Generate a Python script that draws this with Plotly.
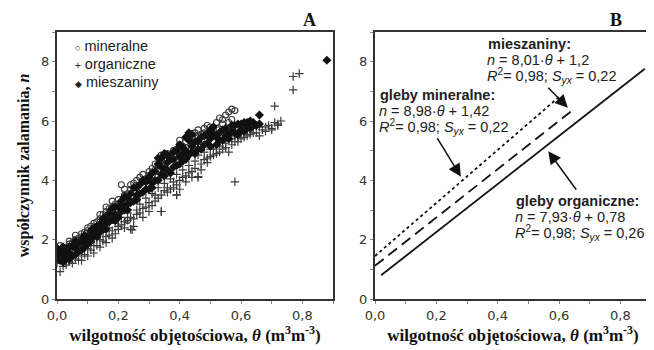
import plotly.graph_objects as go

# ---------------- Panel A data ----------------
min_x = [0.00,0.01,0.02,0.03,0.04,0.05,0.06,0.07,0.08,0.09,0.10,0.11,0.12,0.13,0.14,0.15,0.16,0.17,0.18,0.19,
         0.20,0.21,0.23,0.22,0.23,0.24,0.25,0.26,0.27,0.28,0.29,0.30,0.31,0.32,0.33,0.34,0.35,0.36,0.37,0.38,
         0.39,0.40,0.41,0.42,0.43,0.44,0.45,0.46,0.47,0.48,0.49,0.50,0.51,0.52,0.53,0.54,0.55,0.56,0.57,0.57,0.58,
         0.00,0.01,0.02,0.04,0.05,0.06,0.08,0.10,0.12,0.14,0.16,0.18,0.20,0.22,0.24,0.26,0.28,0.30,0.32,0.34,
         0.36,0.38,0.40,0.42,0.44,0.46,0.48,0.50,0.52,0.54,0.56]
min_y = [1.55,1.60,1.75,1.70,1.85,1.90,2.00,2.05,2.10,2.25,2.30,2.45,2.55,2.60,2.70,2.85,2.95,3.05,3.10,3.20,
         3.35,3.85,2.65,3.50,3.55,3.70,3.90,3.80,4.10,4.20,4.05,4.30,4.40,4.55,4.50,4.70,4.65,4.90,4.75,5.00,
         5.05,5.20,5.15,5.30,5.40,5.45,5.60,5.70,5.55,5.75,5.85,5.80,5.70,5.95,6.10,5.90,6.20,6.30,6.40,6.05,6.35,
         1.70,1.80,1.60,1.95,1.75,2.15,2.20,2.40,2.35,2.85,3.10,3.30,3.15,3.70,3.85,4.00,3.95,4.15,4.35,4.85,
         4.70,4.85,5.35,5.10,5.30,5.50,5.60,5.65,5.75,6.05,5.95]

org_x = [0.00,0.00,0.01,0.02,0.02,0.03,0.04,0.05,0.06,0.07,0.07,0.08,0.09,0.10,0.11,0.12,0.13,0.14,0.15,0.16,
         0.17,0.18,0.19,0.20,0.21,0.22,0.23,0.24,0.25,0.26,0.26,0.27,0.28,0.29,0.30,0.31,0.32,0.33,0.34,0.35,
         0.36,0.37,0.38,0.39,0.39,0.40,0.41,0.42,0.43,0.44,0.45,0.46,0.46,0.47,0.48,0.49,0.50,0.51,0.52,0.53,
         0.54,0.55,0.56,0.57,0.58,0.58,0.59,0.60,0.61,0.62,0.63,0.64,0.65,0.66,0.67,0.68,0.69,0.70,0.71,0.72,
         0.73,0.71,0.77,0.77,0.79,
         0.01,0.03,0.04,0.05,0.06,0.08,0.09,0.10,0.11,0.12,0.13,0.14,0.15,0.16,0.17,0.18,0.19,0.20,0.21,0.22,
         0.23,0.24,0.25,0.27,0.28,0.29,0.30,0.31,0.32,0.33,0.34,0.35,0.36,0.37,0.38,0.39,0.40,0.41,0.42,0.43,
         0.44,0.45,0.47,0.48,0.49,0.50,0.51,0.52,0.53,0.54,0.55,0.56,0.57,0.58,0.59,0.60,0.62,0.64,0.66,0.68,
         0.70,0.72,0.245,0.34,0.39,0.46]
org_y = [1.20,1.55,0.92,1.10,1.40,1.30,1.25,1.50,1.35,1.60,1.30,1.45,1.75,1.70,1.90,1.80,2.05,2.00,2.25,2.10,
         2.40,2.30,2.55,2.45,2.75,2.60,2.90,2.35,2.45,3.00,2.85,3.20,3.05,3.40,2.95,3.55,3.30,3.75,3.50,3.90,
         3.60,4.05,3.75,3.50,4.20,4.00,4.35,4.15,4.50,4.30,4.65,4.10,4.85,4.55,4.95,4.75,5.05,4.85,5.20,4.95,
         5.30,5.10,5.40,5.20,3.95,5.50,5.30,5.60,5.45,5.70,5.55,5.75,5.60,5.80,5.70,5.65,5.85,5.75,5.95,5.85,
         6.00,6.50,7.05,7.50,7.60,
         1.35,1.15,1.45,1.20,1.55,1.30,1.50,1.45,1.65,1.55,1.80,1.75,1.95,1.90,2.15,2.05,2.20,2.35,2.50,2.40,
         2.65,2.75,2.70,2.90,2.75,3.10,3.25,3.15,3.50,3.40,2.95,3.65,3.75,3.70,3.95,3.85,3.70,4.10,3.95,4.25,
         4.10,4.40,4.35,4.70,4.60,4.80,5.05,4.90,5.15,5.05,5.25,4.95,5.40,5.30,5.45,5.40,5.50,5.60,5.50,5.80,
         5.70,5.90,2.33,2.95,3.51,4.13]

mix_x = [0.00,0.00,0.01,0.01,0.02,0.02,0.03,0.03,0.04,0.05,0.05,0.06,0.07,0.08,0.08,0.09,0.10,0.10,0.11,0.12,
         0.12,0.13,0.14,0.15,0.15,0.16,0.17,0.18,0.18,0.19,0.20,0.20,0.21,0.22,0.22,0.23,0.24,0.25,0.25,0.26,
         0.27,0.28,0.29,0.30,0.30,0.31,0.32,0.33,0.33,0.34,0.34,0.35,0.35,0.36,0.37,0.38,0.38,0.39,0.40,0.40,
         0.41,0.42,0.42,0.43,0.43,0.44,0.45,0.46,0.47,0.48,0.49,0.50,0.50,0.51,0.52,0.53,0.54,0.55,0.56,0.57,
         0.58,0.59,0.60,0.61,0.62,0.63,0.65,0.66,0.88,
         0.01,0.02,0.03,0.04,0.04,0.06,0.06,0.07,0.09,0.09,0.11,0.11,0.13,0.13,0.14,0.16,0.16,0.17,0.19,0.19,
         0.21,0.21,0.23,0.23,0.24,0.26,0.26,0.27,0.28,0.29,0.31,0.31,0.32,0.33,0.34,0.35,0.36,0.36,0.37,0.38,
         0.39,0.40,0.41,0.41,0.42,0.43,0.44,0.44,0.45,0.46,0.47,0.48,0.49,0.50,0.51,0.52,0.53,0.54,0.55,0.56,
         0.57,0.58,0.59,0.60,0.61,0.62,0.63,0.64,0.66]
mix_y = [1.45,1.70,1.30,1.60,1.50,1.75,1.40,1.65,1.55,1.80,1.45,1.70,1.85,1.65,2.00,1.90,2.10,1.85,2.30,2.15,
         2.40,2.25,2.50,2.35,2.70,2.55,2.90,2.70,3.05,2.85,3.10,2.75,3.30,3.00,3.45,3.20,3.55,3.30,3.75,3.50,
         3.85,3.60,3.95,3.70,4.10,3.90,4.30,4.00,4.55,4.20,4.75,4.40,4.90,4.60,4.25,4.70,4.95,4.50,4.80,5.20,
         4.65,5.00,5.45,4.85,5.60,5.15,4.90,5.30,5.05,5.50,5.25,5.70,5.40,5.55,5.20,5.60,5.35,5.75,5.55,5.85,
         5.60,5.90,5.70,5.95,5.80,6.00,5.85,6.20,8.05,
         1.45,1.25,1.55,1.35,1.75,1.50,1.95,1.60,1.75,2.15,2.00,1.95,2.45,2.10,2.25,2.35,2.80,2.60,3.10,2.65,
         2.95,3.15,3.40,3.00,3.25,3.75,3.35,3.55,4.00,3.70,4.25,3.75,4.00,4.75,4.45,4.15,4.85,4.35,4.70,4.45,
         5.00,4.55,5.10,4.90,4.70,5.35,4.95,5.55,5.30,5.05,5.45,5.20,5.55,5.15,5.80,5.45,5.35,5.70,5.50,5.40,
         5.65,5.85,5.55,5.90,5.65,5.95,5.75,5.95,5.90]

# ---------------- Panel B data (regression lines) ----------------
line_min_x = [0.00, 0.60]
line_min_y = [1.45, 6.81]
line_mix_x = [0.00, 0.645]
line_mix_y = [1.12, 6.37]
line_org_x = [0.02, 0.88]
line_org_y = [0.80, 7.76]

x_ticks = [0.0, 0.2, 0.4, 0.6, 0.8]
y_ticks = [0, 2, 4, 6, 8]

legend_labels = ["mineralne", "organiczne", "mieszaniny"]

sans = "Liberation Sans, Arial, sans-serif"
tick_sans = "DejaVu Sans, sans-serif"
serif = "Liberation Serif, Times New Roman, serif"
axc = "#333333"

# the page body has an 8px margin, so the figure is drawn 8px in from the window's corner
OFF = 8
W, H = 654 - OFF, 350 - OFF

def px(xp):
    return (xp - OFF) / W

def py(yp):
    return 1 - (yp - OFF) / H

fig = go.Figure()

fig.add_trace(go.Scatter(x=min_x, y=min_y, mode="markers", name=legend_labels[0], showlegend=False,
                         marker=dict(symbol="circle-open", size=6, color="#3a3a3a", line=dict(width=1.1)),
                         xaxis="x", yaxis="y"))
fig.add_trace(go.Scatter(x=org_x, y=org_y, mode="markers", name=legend_labels[1], showlegend=False,
                         marker=dict(symbol="cross-thin-open", size=6, color="#3a3a3a", line=dict(width=1.2)),
                         xaxis="x", yaxis="y"))
fig.add_trace(go.Scatter(x=mix_x, y=mix_y, mode="markers", name=legend_labels[2], showlegend=False,
                         marker=dict(symbol="diamond", size=7, color="#111111"),
                         xaxis="x", yaxis="y"))

fig.add_trace(go.Scatter(x=line_min_x, y=line_min_y, mode="lines", showlegend=False,
                         line=dict(color="#111111", width=1.8, dash="dot"), xaxis="x2", yaxis="y2"))
fig.add_trace(go.Scatter(x=line_mix_x, y=line_mix_y, mode="lines", showlegend=False,
                         line=dict(color="#111111", width=1.8, dash="11px,6px"), xaxis="x2", yaxis="y2"))
fig.add_trace(go.Scatter(x=line_org_x, y=line_org_y, mode="lines", showlegend=False,
                         line=dict(color="#111111", width=1.8), xaxis="x2", yaxis="y2"))

def xax(domain, anchor):
    return dict(domain=domain, anchor=anchor, range=[0, 0.9], tickvals=x_ticks, tickformat=".1f",
                automargin=False,
                showgrid=False, zeroline=False, showline=True, linecolor=axc, linewidth=2, mirror=True,
                ticks="outside", ticklen=3, tickcolor="#888888",
                minor=dict(dtick=0.1, ticks="outside", ticklen=3, tickcolor="#888888"),
                tickfont=dict(family=tick_sans, size=13, color="#333333"),
                title=dict(text="<b>wilgotność objętościowa, <i>θ</i> (m<sup>3</sup>m<sup>-3</sup>)</b>",
                           font=dict(family=serif, size=17, color="#111111"), standoff=2))

def yax(domain, anchor, title=None):
    d = dict(domain=domain, anchor=anchor, range=[0, 9], tickvals=y_ticks, tickformat="d",
             automargin=False,
             showgrid=False, zeroline=False, showline=True, linecolor=axc, linewidth=2, mirror=True,
             ticks="outside", ticklen=3, tickcolor="#888888",
             minor=dict(dtick=1, ticks="outside", ticklen=3, tickcolor="#888888"),
             tickfont=dict(family=tick_sans, size=13, color="#333333"))
    if title:
        d["title"] = dict(text=title, font=dict(family=serif, size=16, color="#111111"), standoff=8)
    return d

ydom = [py(299), py(32)]
fig.update_layout(
    width=W, height=H, margin=dict(l=0, r=0, t=0, b=0, autoexpand=False),
    paper_bgcolor="white", plot_bgcolor="white", separators=", ",
    xaxis=xax([px(57), px(333)], "y"),
    yaxis=yax(ydom, "x", "<b>współczynnik zalamania, <i>n</i></b>"),
    xaxis2=xax([px(375), px(651)], "y2"),
    yaxis2=yax(ydom, "x2"),
    showlegend=False,
)

eq_font = dict(family=sans, size=14.5, color="#222222")
leg_font = dict(family=sans, size=14.5, color="#222222")

def txt(text, xp, yp, font, xanchor="left"):
    return dict(text=text, x=px(xp), y=py(yp), xref="paper", yref="paper", xanchor=xanchor,
                yanchor="middle", showarrow=False, font=font)

annots = [
    txt("<b>A</b>", 309, 20, dict(family=serif, size=18, color="#111111"), "center"),
    txt("<b>B</b>", 616, 20, dict(family=serif, size=18, color="#111111"), "center"),
    # legend of panel A
    txt("<span style='font-size:9px'>○</span> " + legend_labels[0], 73, 46, leg_font),
    txt("<span style='font-size:10px'>+</span> " + legend_labels[1], 73, 64, leg_font),
    txt("<span style='font-size:9px'>◆</span> " + legend_labels[2], 73, 82, leg_font),
    # equations
    txt("<b>mieszaniny:</b>", 486, 44, eq_font),
    txt("<i>n</i> = 8,01·<i>θ</i> + 1,2", 485, 60, eq_font),
    txt("<i>R</i><sup>2</sup>= 0,98; <i>S<sub>yx</sub></i> = 0,22", 485, 76, eq_font),
    txt("<b>gleby mineralne:</b>", 378, 95, eq_font),
    txt("<i>n</i> = 8,98·<i>θ</i> + 1,42", 377, 111, eq_font),
    txt("<i>R</i><sup>2</sup>= 0,98; <i>S<sub>yx</sub></i> = 0,22", 377, 127, eq_font),
    txt("<b>gleby organiczne:</b>", 514, 201, eq_font),
    txt("<i>n</i> = 7,93·<i>θ</i> + 0,78", 513, 217, eq_font),
    txt("<i>R</i><sup>2</sup>= 0,98; <i>S<sub>yx</sub></i> = 0,26", 513, 233, eq_font),
    # arrows
    dict(x=0.629, y=6.45, ax=0.56, ay=7.17, xref="x2", yref="y2", axref="x2", ayref="y2", text="",
         showarrow=True, arrowhead=2, arrowsize=1.7, arrowwidth=1.5, arrowcolor="#111111"),
    dict(x=0.28, y=4.12, ax=0.20, ay=5.47, xref="x2", yref="y2", axref="x2", ayref="y2", text="",
         showarrow=True, arrowhead=2, arrowsize=1.7, arrowwidth=1.5, arrowcolor="#111111"),
    dict(x=0.565, y=4.98, ax=0.66, ay=3.63, xref="x2", yref="y2", axref="x2", ayref="y2", text="",
         showarrow=True, arrowhead=2, arrowsize=1.7, arrowwidth=1.5, arrowcolor="#111111"),
]
fig.update_layout(annotations=annots)

fig.write_html("out.html")
